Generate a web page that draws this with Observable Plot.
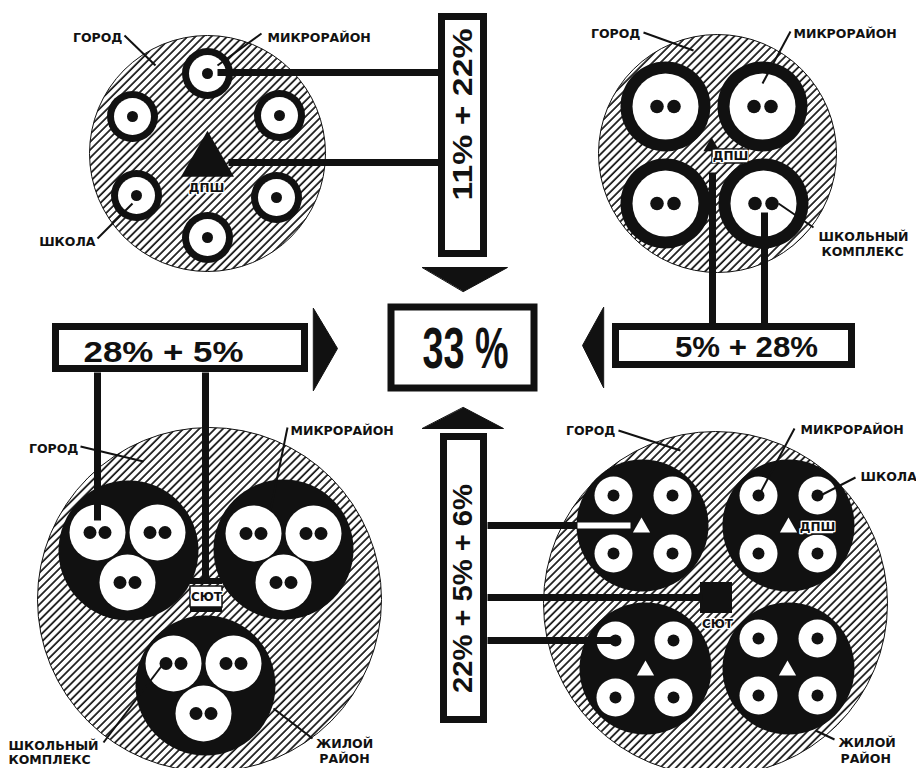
<!DOCTYPE html>
<html><head><meta charset="utf-8">
<script src="https://cdn.jsdelivr.net/npm/d3@7"></script>
<script src="https://cdn.jsdelivr.net/npm/@observablehq/plot@0.6"></script>
<style>html,body{margin:0;padding:0;background:#fff}</style>
</head><body><div id="chart"></div>
<script>
// ---- diagram data (diagram coordinates, one unit = one pixel of the 916x768 sheet) ----
const shareLabels = ["11% + 22%", "5% + 28%", "22% + 5% + 6%", "28% + 5%", "33 %"];
const shareCenters = [[463,114],[746,347],[463,588],[163,352],[465,349]];
const shareRotate = [-90, 0, -90, 0, 0];
const shareLength = [172, 143, 209, 160, 86];
const shareSize = [28, 30, 28, 30, 57];

const boxFrames = [[441.5,16.5,483.5,253.5],[615.5,326.5,851.5,364.5],[443.5,436.5,483.5,719.5],[55.5,326.5,304.5,368.5],[391,307,534,388]];
const arrowHeads = [
  [[422,267],[507,267],[463,291]],
  [[603,307],[582,345],[603,387]],
  [[422,428],[503,428],[463,407]],
  [[313,308],[337,348],[313,390]]
];

const cities = [[207,153,118],[717,153,119],[209,599,172],[715,603,172]];
const ringsTL = [[207,73],[132,116],[279,115],[136,195],[276,197],[207,237]];
const ringsTR = [[665,106],[762,106],[665,203],[763,203]];
const clustersBL = [[128,550],[283,549],[205,685]];
const discsBL = [[97,532],[157,532],[127,582],[253,533],[313,533],[283,582],[173,663],[233,663],[203,713]];
const clustersBR = [[642,525],[788,525],[645,668],[788,668]];
const ringsBR = [[613,495],[672,495],[613,553],[672,553],[758,495],[817,495],[758,553],[817,553],
                 [615,640],[673,640],[615,697],[673,697],[758,638],[817,638],[758,695],[817,695]];
const trianglesBR = [[641,527],[788,527],[645,670],[787,670]];
const bigTriangle = [[207,161]];
const smallTriangleTR = [[711,146]];

const blackLinks = [
  [217,72,438,72],[228,162,438,162],
  [712,172,712,323],[764,212,764,323],
  [97,372,97,520],[205,372,205,580],
  [487,525,577,525],[487,597,702,597],[487,640,615,640]
];
const whiteLinks = [[577,525,630,525]];

const labelTexts = ["ГОРОД","МИКРОРАЙОН","ШКОЛА",
  "ГОРОД","МИКРОРАЙОН","ШКОЛЬНЫЙ","КОМПЛЕКС",
  "ГОРОД","МИКРОРАЙОН","ШКОЛЬНЫЙ","КОМПЛЕКС","ЖИЛОЙ","РАЙОН",
  "ГОРОД","МИКРОРАЙОН","ШКОЛА","ЖИЛОЙ","РАЙОН"];
const labelPos = [[122,37,"end"],[267,37,"start"],[95,241,"end"],
  [640,33,"end"],[793,33,"start"],[818,236,"start"],[821,251,"start"],
  [78,448,"end"],[290,430,"start"],[8,745,"start"],[8,759,"start"],[344,743,"middle"],[344,758,"middle"],
  [615,430,"end"],[800,429,"start"],[860,476,"start"],[838,742,"start"],[840,758,"start"]];
const leaders = [
  [124,35,155,65],[261,33,217,65],[97,238,132,203],
  [643,32,693,50],[790,31,762,83],[813,227,778,203],
  [80,446,143,461],[287,427,270,510],[103,742,163,663],[312,738,273,708],
  [618,430,680,450],[794,428,760,492],[855,477,820,495],[834,739,815,730]
];

const facilityTexts = ["ДПШ","ДПШ","СЮТ","СЮТ","ДПШ"];
const facilityPos = [[206,188],[730,156],[206,597],[717,624],[817,527]];
const facilityBoxes = [[712,149,748,163],[800,520,834,534],[190,586,222,607]];
const facilityBars = [[190,578,222,584],[190,607,222,612]];
const sutSquare = [[700,582,732,613]];

// ---- build ----
const P = a => a.map(([x,y]) => ({x,y}));
const L = a => a.map(([x1,y1,x2,y2]) => ({x1,y1,x2,y2}));
const arrows = arrowHeads.flatMap((pts,i) => pts.map(([x,y]) => ({x,y,id:i})));
const shares = shareLabels.map((t,i) => ({t, x:shareCenters[i][0], y:shareCenters[i][1], rot:shareRotate[i], size:shareSize[i]}));
const labels = labelTexts.map((t,i) => ({t, x:labelPos[i][0], y:labelPos[i][1], a:labelPos[i][2]}));
const facilities = facilityTexts.map((t,i) => ({t, x:facilityPos[i][0], y:facilityPos[i][1]}));

const ink = "#111";
const sansW = "DejaVu Sans";
const labelMark = anchor => Plot.text(labels.filter(d=>d.a===anchor), {x:"x", y:"y", text:"t", textAnchor:anchor, fontFamily:sansW, fontWeight:"bold", fontSize:12.5, fill:ink});
const marks = [
  Plot.dot(cities.map(([x,y,r])=>({x,y,r})), {x:"x", y:"y", r:"r", fill:"url(#hatch)", stroke:ink, strokeWidth:1}),
  // top-left city
  Plot.dot(P(ringsTL), {x:"x", y:"y", r:25.5, fill:ink}),
  Plot.dot(P(ringsTL), {x:"x", y:"y", r:18.5, fill:"white"}),
  Plot.dot(P(ringsTL), {x:"x", y:"y", r:5.5, fill:ink}),
  Plot.dot(P(bigTriangle), {x:"x", y:"y", r:19.7, symbol:"triangle", fill:ink}),
  // top-right city
  Plot.dot(P(ringsTR), {x:"x", y:"y", r:45, fill:ink}),
  Plot.dot(P(ringsTR), {x:"x", y:"y", r:33, fill:"white"}),
  Plot.dot(P(ringsTR), {x:d=>d.x-8.5, y:"y", r:6.8, fill:ink}),
  Plot.dot(P(ringsTR), {x:d=>d.x+8.5, y:"y", r:6.8, fill:ink}),
  Plot.dot(P(smallTriangleTR), {x:"x", y:"y", r:6, symbol:"triangle", fill:ink}),
  // bottom-left city
  Plot.dot(P(clustersBL), {x:"x", y:"y", r:70, fill:ink}),
  Plot.dot(P(discsBL), {x:"x", y:"y", r:28, fill:"white"}),
  Plot.dot(P(discsBL), {x:d=>d.x-7.5, y:"y", r:6.5, fill:ink}),
  Plot.dot(P(discsBL), {x:d=>d.x+7.5, y:"y", r:6.5, fill:ink}),
  // bottom-right city
  Plot.dot(P(clustersBR), {x:"x", y:"y", r:66, fill:ink}),
  Plot.dot(P(ringsBR), {x:"x", y:"y", r:19, fill:"white"}),
  Plot.dot(P(ringsBR), {x:"x", y:"y", r:6, fill:ink}),
  Plot.dot(P(trianglesBR), {x:"x", y:"y", r:6.4, symbol:"triangle", fill:"white"}),
  Plot.rect(L(sutSquare), {x1:"x1", y1:"y1", x2:"x2", y2:"y2", fill:ink}),
  // connections
  Plot.link(L(blackLinks), {x1:"x1", y1:"y1", x2:"x2", y2:"y2", stroke:ink, strokeWidth:7, strokeLinecap:"butt"}),
  Plot.link(L(whiteLinks), {x1:"x1", y1:"y1", x2:"x2", y2:"y2", stroke:"white", strokeWidth:6, strokeLinecap:"butt"}),
  // facility labels
  Plot.rect(L(facilityBoxes), {x1:"x1", y1:"y1", x2:"x2", y2:"y2", fill:"white", stroke:ink, strokeWidth:1.5}),
  Plot.rect(L(facilityBars), {x1:"x1", y1:"y1", x2:"x2", y2:"y2", fill:ink}),
  Plot.text(facilities, {x:"x", y:"y", text:"t", fontFamily:sansW, fontWeight:"bold", fontSize:12, fill:ink, stroke:"white", strokeWidth:2.5}),
  // share boxes and arrows
  Plot.rect(L(boxFrames), {x1:"x1", y1:"y1", x2:"x2", y2:"y2", fill:"white", stroke:ink, strokeWidth:7}),
  Plot.line(arrows, {x:"x", y:"y", z:"id", fill:ink, stroke:ink, strokeWidth:1, curve:"linear-closed"}),
  Plot.text(shares.filter(d=>d.rot===0 && d.size<40), {x:"x", y:"y", text:"t", fontFamily:"Liberation Sans", fontWeight:"bold", fontSize:30, fill:ink}),
  Plot.text(shares.filter(d=>d.size>40), {x:"x", y:"y", text:"t", fontFamily:"Liberation Sans", fontWeight:"bold", fontSize:57, fill:ink}),
  Plot.text(shares.filter(d=>d.rot!==0), {x:"x", y:"y", text:"t", rotate:-90, fontFamily:"Liberation Sans", fontWeight:"bold", fontSize:28, fill:ink}),
  // callouts
  Plot.link(L(leaders), {x1:"x1", y1:"y1", x2:"x2", y2:"y2", stroke:ink, strokeWidth:2}),
  labelMark("start"), labelMark("middle"), labelMark("end")
];

const svg = Plot.plot({
  width: 916, height: 768,
  margin: 0,
  x: {domain:[0,916], range:[0,916], axis:null},
  y: {domain:[0,768], range:[0,768], axis:null},
  r: {type:"identity"},
  style: {background:"white", overflow:"hidden"},
  marks
});

// hatch pattern used by the city discs
const defs = d3.select(svg).insert("defs", ":first-child");
const pat = defs.append("pattern").attr("id","hatch").attr("patternUnits","userSpaceOnUse")
  .attr("width",5.6).attr("height",5.6).attr("patternTransform","rotate(45)");
pat.append("rect").attr("width",5.6).attr("height",5.6).attr("fill","white");
pat.append("line").attr("x1",1).attr("y1",0).attr("x2",1).attr("y2",5.6).attr("stroke",ink).attr("stroke-width",1.7);

// fit percentage texts to the measured widths
const lenMap = new Map(shareLabels.map((t,i)=>[t, shareLength[i]]));
d3.select(svg).selectAll("text").each(function(){
  const t = this.textContent;
  if (lenMap.has(t)) { this.setAttribute("textLength", lenMap.get(t)); this.setAttribute("lengthAdjust","spacingAndGlyphs"); }
});
document.getElementById("chart").appendChild(svg);
</script>
</body></html>
